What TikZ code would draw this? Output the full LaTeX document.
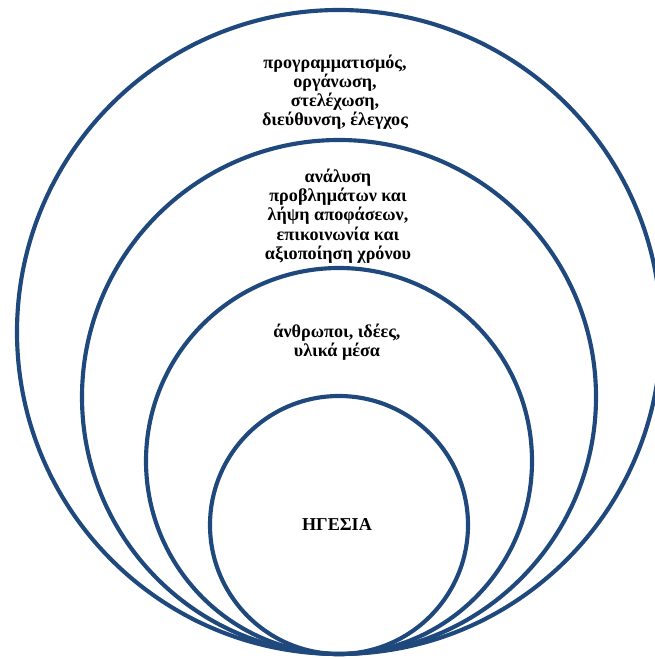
\documentclass[tikz,border=0pt]{standalone}
\usepackage{fontspec}
\setmainfont{Liberation Serif}
\definecolor{ringblue}{HTML}{1F497D}
\begin{document}
\begin{tikzpicture}[x=0.75pt,y=-0.75pt,
  ring/.style={circle,draw=ringblue,line width=3.1pt,inner sep=0pt,outer sep=0pt},
  label/.style={align=center,font=\fontsize{13.6pt}{14.4pt}\selectfont\bfseries,inner sep=0pt}]
  \useasboundingbox (0,0) rectangle (655,659);
  \clip (0,0) rectangle (655,659);
  % four nested rings, all touching at the bottom
  \node[ring,minimum size=483pt] (outer) at (339,332) {};
  \node[ring,minimum size=385.5pt] (second) at (339,397) {};
  \node[ring,minimum size=289.5pt] (third) at (339,461) {};
  \node[ring,minimum size=193.5pt] (inner) at (339,525) {};
  % ring captions
  \node[label] (t1) at (335,92) {προγραμματισμός,\\οργάνωση,\\στελέχωση,\\διεύθυνση, έλεγχος};
  \node[label] (t2) at (338,216) {ανάλυση\\προβλημάτων και\\λήψη αποφάσεων,\\επικοινωνία και\\αξιοποίηση χρόνου};
  \node[label] (t3) at (337,342) {άνθρωποι, ιδέες,\\υλικά μέσα};
  \node[label] (t4) at (337,525) {ΗΓΕΣΙΑ};
\end{tikzpicture}
\end{document}
